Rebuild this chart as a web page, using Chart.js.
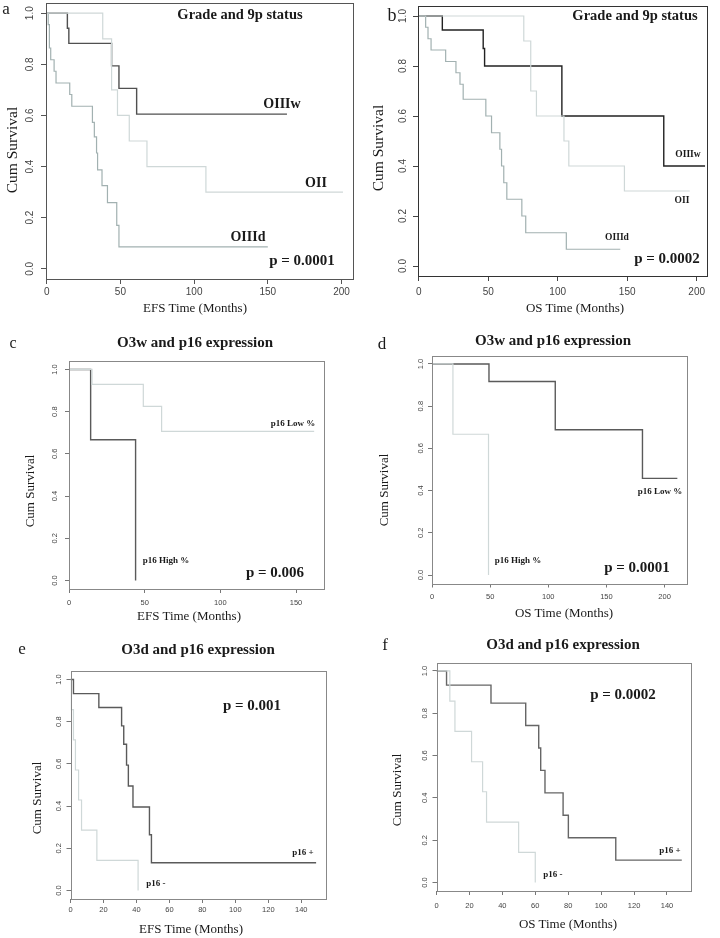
<!DOCTYPE html>
<html><head><meta charset="utf-8">
<script src="https://cdn.jsdelivr.net/npm/chart.js@4.4.1/dist/chart.umd.min.js"></script>
<style>
html,body{margin:0;padding:0;background:#fff;}
#page{position:relative;width:720px;height:938px;overflow:hidden;background:#fff;}
canvas{position:absolute;}
.t{position:absolute;white-space:nowrap;line-height:1;transform:translate(-50%,-50%);font-family:'Liberation Serif','Times New Roman',serif;color:#1a1a1a;}
.b{font-weight:bold;}
.r{transform:translate(-50%,-50%) rotate(-90deg);}
</style></head><body><div id="page">
<canvas id="ca" width="360" height="300" style="left:0;top:0;width:360px;height:300px"></canvas>
<canvas id="cb" width="360" height="300" style="left:360px;top:0;width:360px;height:300px"></canvas>
<canvas id="cc" width="360" height="320" style="left:0;top:300px;width:360px;height:320px"></canvas>
<canvas id="cd" width="360" height="320" style="left:360px;top:300px;width:360px;height:320px"></canvas>
<canvas id="ce" width="360" height="318" style="left:0;top:620px;width:360px;height:318px"></canvas>
<canvas id="cf" width="360" height="318" style="left:360px;top:620px;width:360px;height:318px"></canvas>

<!-- panel a -->
<div class="t" style="left:6px;top:8px;font-size:17px">a</div>
<div class="t b" style="left:240px;top:14px;font-size:14.5px">Grade and 9p status</div>
<div class="t b" style="left:282px;top:104px;font-size:14px">OIIIw</div>
<div class="t b" style="left:316px;top:183px;font-size:14px">OII</div>
<div class="t b" style="left:248px;top:237px;font-size:14px">OIIId</div>
<div class="t b" style="left:302px;top:260px;font-size:15px">p = 0.0001</div>
<div class="t r" style="left:12px;top:150px;font-size:15.5px">Cum Survival</div>
<div class="t" style="left:195px;top:307px;font-size:13px">EFS Time (Months)</div>
<!-- panel b -->
<div class="t" style="left:392px;top:15px;font-size:18px">b</div>
<div class="t b" style="left:635px;top:15px;font-size:14.5px">Grade and 9p status</div>
<div class="t b" style="left:688px;top:155px;font-size:9.5px">OIIIw</div>
<div class="t b" style="left:682px;top:201px;font-size:9.5px">OII</div>
<div class="t b" style="left:617px;top:238px;font-size:9.5px">OIIId</div>
<div class="t b" style="left:667px;top:258px;font-size:15px">p = 0.0002</div>
<div class="t r" style="left:378px;top:148px;font-size:15.5px">Cum Survival</div>
<div class="t" style="left:575px;top:307px;font-size:13px">OS Time (Months)</div>
<!-- panel c -->
<div class="t" style="left:13px;top:343px;font-size:16px">c</div>
<div class="t b" style="left:195px;top:342px;font-size:15px">O3w and p16 expression</div>
<div class="t b" style="left:293px;top:423px;font-size:9px">p16 Low %</div>
<div class="t b" style="left:166px;top:560px;font-size:9px">p16 High %</div>
<div class="t b" style="left:275px;top:572px;font-size:15px">p = 0.006</div>
<div class="t r" style="left:29px;top:491px;font-size:13px">Cum Survival</div>
<div class="t" style="left:189px;top:615px;font-size:13px">EFS Time (Months)</div>
<!-- panel d -->
<div class="t" style="left:382px;top:343px;font-size:17px">d</div>
<div class="t b" style="left:553px;top:340px;font-size:15px">O3w and p16 expression</div>
<div class="t b" style="left:660px;top:491px;font-size:9px">p16 Low %</div>
<div class="t b" style="left:518px;top:560px;font-size:9px">p16 High %</div>
<div class="t b" style="left:637px;top:567px;font-size:15px">p = 0.0001</div>
<div class="t r" style="left:383px;top:490px;font-size:13px">Cum Survival</div>
<div class="t" style="left:564px;top:612px;font-size:13px">OS Time (Months)</div>
<!-- panel e -->
<div class="t" style="left:22px;top:648px;font-size:17px">e</div>
<div class="t b" style="left:198px;top:649px;font-size:15px">O3d and p16 expression</div>
<div class="t b" style="left:303px;top:852px;font-size:9px">p16 +</div>
<div class="t b" style="left:156px;top:883px;font-size:9px">p16 -</div>
<div class="t b" style="left:252px;top:705px;font-size:15px">p = 0.001</div>
<div class="t r" style="left:36px;top:798px;font-size:13px">Cum Survival</div>
<div class="t" style="left:191px;top:928px;font-size:13px">EFS Time (Months)</div>
<!-- panel f -->
<div class="t" style="left:385px;top:644px;font-size:17px">f</div>
<div class="t b" style="left:563px;top:644px;font-size:15px">O3d and p16 expression</div>
<div class="t b" style="left:670px;top:850px;font-size:9px">p16 +</div>
<div class="t b" style="left:553px;top:874px;font-size:9px">p16 -</div>
<div class="t b" style="left:623px;top:694px;font-size:15px">p = 0.0002</div>
<div class="t r" style="left:396px;top:790px;font-size:13px">Cum Survival</div>
<div class="t" style="left:568px;top:923px;font-size:13px">OS Time (Months)</div>
</div>
<script>
// ---- tick labels ----
const ticksY = [0, 0.2, 0.4, 0.6, 0.8, 1.0];
const ticksX200 = [0, 50, 100, 150, 200];
const ticksX150 = [0, 50, 100, 150];
const ticksX140 = [0, 20, 40, 60, 80, 100, 120, 140];

// ---- a: EFS, grade and 9p status ----
const aTimeOIIIw = [0, 14, 15, 44, 49, 61, 163];
const aSurvOIIIw = [1, 0.941, 0.882, 0.794, 0.706, 0.605, 0.605];
const aTimeOII = [0, 38, 44, 48, 56, 68, 108, 201];
const aSurvOII = [1, 0.9, 0.7, 0.6, 0.5, 0.4, 0.3, 0.3];
const aTimeOIIId = [0, 1, 1.8, 2.7, 5, 6.3, 15.6, 17, 31, 32.3, 33.8, 34.5, 37.5, 41.2, 47.5, 49, 150];
const aSurvOIIId = [1, 0.955, 0.864, 0.818, 0.773, 0.727, 0.682, 0.636, 0.573, 0.516, 0.453, 0.387, 0.325, 0.259, 0.17, 0.086, 0.086];

// ---- b: OS, grade and 9p status ----
const bTimeOIIIw = [0, 17, 46.4, 47.4, 103, 176.3, 206];
const bSurvOIIIw = [1, 0.944, 0.87, 0.8, 0.6, 0.4, 0.4];
const bTimeOII = [0, 75.6, 80.6, 84.7, 104.5, 108, 148, 195];
const bSurvOII = [1, 0.9, 0.7, 0.6, 0.5, 0.4, 0.3, 0.3];
const bTimeOIIId = [0, 5, 6.7, 8.9, 19.4, 26.8, 29.7, 32, 48.3, 52.4, 58.4, 59.6, 61.2, 63.4, 74.2, 77, 106.2, 145];
const bSurvOIIId = [1, 0.955, 0.909, 0.864, 0.818, 0.773, 0.727, 0.667, 0.6, 0.533, 0.467, 0.4, 0.333, 0.267, 0.2, 0.133, 0.067, 0.067];

// ---- c: EFS, O3w and p16 ----
const cTimeLow = [0, 15.2, 49.1, 61.2, 162];
const cSurvLow = [1, 0.929, 0.825, 0.707, 0.707];
const cTimeHigh = [0, 14.3, 44];
const cSurvHigh = [1, 0.667, 0];

// ---- d: OS, O3w and p16 ----
const dTimeLow = [0, 49, 106, 181, 211];
const dSurvLow = [1, 0.917, 0.688, 0.458, 0.458];
const dTimeHigh = [0, 18, 48.6];
const dSurvHigh = [1, 0.667, 0];

// ---- e: EFS, O3d and p16 ----
const eTimePos = [0, 1.8, 17.2, 31, 32.3, 34, 35.1, 37.9, 47.9, 49.1, 149];
const eSurvPos = [1, 0.933, 0.867, 0.78, 0.693, 0.594, 0.495, 0.396, 0.264, 0.132, 0.132];
const eTimeNeg = [0, 0.4, 1.8, 3, 4.9, 6.7, 16, 41];
const eSurvNeg = [1, 0.857, 0.714, 0.571, 0.429, 0.286, 0.143, 0];

// ---- f: OS, O3d and p16 ----
const fTimePos = [0, 6.1, 33.1, 54.2, 62.1, 63.3, 65.9, 76.9, 80.1, 108.9, 149];
const fSurvPos = [1, 0.933, 0.848, 0.742, 0.636, 0.53, 0.424, 0.318, 0.212, 0.106, 0.106];
const fTimeNeg = [0, 8.1, 11.2, 21.3, 28, 30.4, 49.9, 60];
const fSurvNeg = [1, 0.857, 0.714, 0.571, 0.429, 0.286, 0.143, 0];

const LIGHT = '#cfd8d8', MID = '#a2b1b1', DARK = '#505050';

const framePlugin = {
  id: 'frame',
  afterDatasetsDraw(chart, args, opts) {
    const {ctx, chartArea: a} = chart;
    ctx.save();
    ctx.strokeStyle = opts.color || '#555';
    ctx.lineWidth = 1;
    const l = Math.round(a.left) + 0.5, t = Math.round(a.top) + 0.5;
    ctx.strokeRect(l, t, Math.round(a.right) - Math.round(a.left), Math.round(a.bottom) - Math.round(a.top));
    ctx.restore();
  }
};

function km(id, o) {
  const W = 360, H = document.getElementById(id).height;
  new Chart(document.getElementById(id), {
    type: 'line',
    data: {
      datasets: o.series.map(s => ({
        data: s.t.map((t, i) => ({x: t, y: s.s[i]})),
        borderColor: s.c, borderWidth: s.w || 1.2, stepped: 'before',
        pointRadius: 0, fill: false, tension: 0
      }))
    },
    options: {
      responsive: false, animation: false, devicePixelRatio: 1,
      layout: {padding: {left: 0, top: o.area.t, right: W - o.area.r, bottom: 0}},
      plugins: {legend: {display: false}, tooltip: {enabled: false}, frame: {color: o.frame}},
      scales: {
        x: {
          type: 'linear', min: o.xmin, max: o.xmax,
          afterBuildTicks: s => { s.ticks = o.xt.map(v => ({value: v})); },
          afterFit: s => { s.height = H - o.area.b; s.paddingLeft = 0; s.paddingRight = 0; },
          ticks: {font: {family: 'Liberation Sans', size: o.fs}, color: '#444', padding: o.xPad, maxRotation: 0, autoSkip: false, callback: v => String(v)},
          grid: {display: true, drawOnChartArea: false, drawTicks: true, tickLength: o.tl, color: o.tickColor},
          border: {display: false}
        },
        y: {
          type: 'linear', min: -0.04, max: 1.04,
          afterBuildTicks: s => { s.ticks = ticksY.map(v => ({value: v})); },
          afterFit: s => { s.width = o.area.l; s.paddingTop = 0; s.paddingBottom = 0; },
          ticks: {font: {family: 'Liberation Sans', size: o.fs}, color: '#444', padding: o.yPad, minRotation: 90, maxRotation: 90, crossAlign: 'center', autoSkip: false, callback: v => v.toFixed(1)},
          grid: {display: true, drawOnChartArea: false, drawTicks: true, tickLength: o.tl, color: o.tickColor},
          border: {display: false}
        }
      }
    },
    plugins: [framePlugin]
  });
}

km('ca', {area: {l: 46, t: 3, r: 353, b: 279}, xmin: -0.5, xmax: 207.8, xt: ticksX200, fs: 10, tl: 5, xPad: 2, yPad: 4, frame: '#555', tickColor: '#555',
  series: [{t: aTimeOII, s: aSurvOII, c: LIGHT}, {t: aTimeOIIId, s: aSurvOIIId, c: MID}, {t: aTimeOIIIw, s: aSurvOIIIw, c: DARK, w: 1.4}]});
km('cb', {area: {l: 58, t: 6, r: 347, b: 276}, xmin: -0.5, xmax: 207.4, xt: ticksX200, fs: 10, tl: 5, xPad: 5, yPad: 3, frame: '#333', tickColor: '#444',
  series: [{t: bTimeOII, s: bSurvOII, c: LIGHT}, {t: bTimeOIIId, s: bSurvOIIId, c: MID}, {t: bTimeOIIIw, s: bSurvOIIIw, c: '#222', w: 1.4}]});
km('cc', {area: {l: 69, t: 61, r: 324, b: 289}, xmin: 0, xmax: 168.5, xt: ticksX150, fs: 7.5, tl: 4, xPad: 5, yPad: 4.4, frame: '#888', tickColor: '#777',
  series: [{t: cTimeLow, s: cSurvLow, c: LIGHT}, {t: cTimeHigh, s: cSurvHigh, c: '#5a5a5a', w: 1.4}]});
km('cd', {area: {l: 72, t: 55.5, r: 327, b: 283.5}, xmin: 0, xmax: 219.3, xt: ticksX200, fs: 7.5, tl: 4, xPad: 4.7, yPad: 2.1, frame: '#888', tickColor: '#777',
  series: [{t: dTimeHigh, s: dSurvHigh, c: LIGHT}, {t: dTimeLow, s: dSurvLow, c: '#5a5a5a', w: 1.4}]});
km('ce', {area: {l: 70.5, t: 51, r: 326, b: 279}, xmin: 0, xmax: 155, xt: ticksX140, fs: 7.5, tl: 4, xPad: 2, yPad: 2.4, frame: '#888', tickColor: '#777',
  series: [{t: eTimeNeg, s: eSurvNeg, c: LIGHT}, {t: eTimePos, s: eSurvPos, c: '#5a5a5a', w: 1.4}]});
km('cf', {area: {l: 76.5, t: 42.5, r: 331, b: 271}, xmin: 0, xmax: 154.6, xt: ticksX140, fs: 7.5, tl: 4, xPad: 6.8, yPad: 2.1, frame: '#888', tickColor: '#777',
  series: [{t: fTimeNeg, s: fSurvNeg, c: LIGHT}, {t: fTimePos, s: fSurvPos, c: '#666', w: 1.4}]});
</script>
</body></html>
